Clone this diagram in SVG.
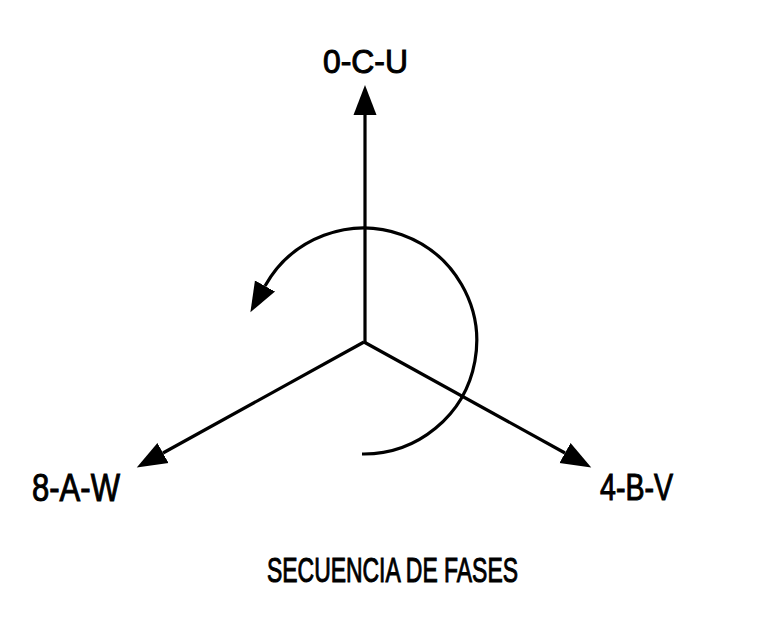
<svg xmlns="http://www.w3.org/2000/svg" width="764" height="630" viewBox="0 0 764 630">
<style>
.ln{fill:none;stroke:#000;stroke-width:3.2;stroke-linecap:butt}
.lb{font-family:"Liberation Sans",Arial,sans-serif;fill:#000;stroke:#000;stroke-width:1}
</style>
<defs>
<marker id="ah" markerUnits="userSpaceOnUse" markerWidth="32" markerHeight="26" viewBox="0 -13 32 26" refX="0" refY="0" orient="auto">
<path d="M0,-11.5 L30,0 L0,11.5 Z" fill="#000"/>
</marker>
</defs>
<rect width="764" height="630" fill="#fff"/>
<g id="connectors">
<path class="ln" d="M365,342 L365,115" marker-end="url(#ah)"/>
<path class="ln" d="M364,342 L163,453" marker-end="url(#ah)"/>
<path class="ln" d="M364,342 L565,453" marker-end="url(#ah)"/>
<path class="ln" d="M362,454 A113,113 0 1 0 265,286" marker-end="url(#ah)"/>
</g>
<g id="node-ocu"><text class="lb" x="323" y="73" font-size="33.5" textLength="85" lengthAdjust="spacingAndGlyphs">0-C-U</text></g>
<g id="node-8aw"><text class="lb" x="32" y="501" font-size="39" textLength="88" lengthAdjust="spacingAndGlyphs">8-A-W</text></g>
<g id="node-4bv"><text class="lb" x="600" y="500" font-size="36" textLength="73" lengthAdjust="spacingAndGlyphs">4-B-V</text></g>
<g id="title"><text class="lb" x="267" y="582" font-size="35" textLength="251" lengthAdjust="spacingAndGlyphs">SECUENCIA DE FASES</text></g>
</svg>
